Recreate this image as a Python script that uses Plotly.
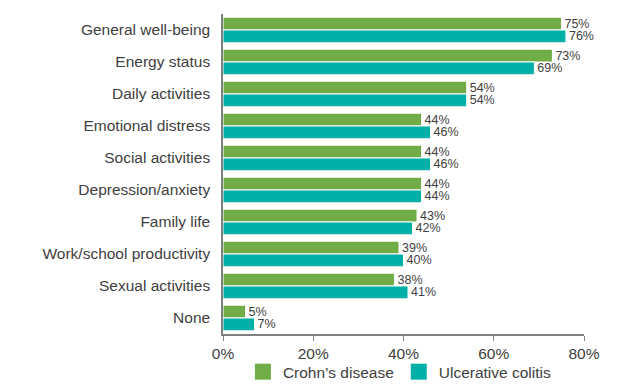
import plotly.graph_objects as go

categories = ["General well-being", "Energy status", "Daily activities", "Emotional distress",
              "Social activities", "Depression/anxiety", "Family life",
              "Work/school productivity", "Sexual activities", "None"]
crohns = [75, 73, 54, 44, 44, 44, 43, 39, 38, 5]
uc = [76, 69, 54, 46, 46, 44, 42, 40, 41, 7]
series_names = ["Crohn’s disease", "Ulcerative colitis"]
tick_vals = [0, 20, 40, 60, 80]
tick_text = ["0%", "20%", "40%", "60%", "80%"]

GREEN = "#70AD47"
TEAL = "#00B0A6"
TXT = "#404040"
FONT = "Liberation Sans, Arial, sans-serif"

fig = go.Figure()
for name, vals, col in [(series_names[0], crohns, GREEN), (series_names[1], uc, TEAL)]:
    fig.add_trace(go.Bar(
        y=categories, x=vals, orientation="h", name=name, showlegend=False,
        marker=dict(color=col, line=dict(color="white", width=1)),
        text=[f"{v}%" for v in vals], textposition="outside", cliponaxis=False,
        constraintext="none",
        textfont=dict(size=12.5, color=TXT, family=FONT)))
# legend proxies
for name, col in [(series_names[0], GREEN), (series_names[1], TEAL)]:
    fig.add_trace(go.Scatter(
        x=[None], y=[None], mode="markers", name=name,
        marker=dict(symbol="square", size=16, color=col)))

fig.update_layout(
    width=619, height=384,
    margin=dict(l=223, r=35, t=14, b=50, autoexpand=False),
    barmode="group", bargap=0.2, bargroupgap=0,
    plot_bgcolor="white", paper_bgcolor="white",
    font=dict(family=FONT, color=TXT, size=15),
    showlegend=True,
    legend=dict(orientation="h", x=0.49, xanchor="center", yref="container",
                y=0.031, yanchor="middle", bgcolor="rgba(0,0,0,0)",
                font=dict(size=15.5, color=TXT), itemwidth=30, traceorder="normal",
                tracegroupgap=0),
    xaxis=dict(range=[0, 80], tickvals=tick_vals, ticktext=tick_text,
               showline=True, linecolor="#808080", linewidth=1.5,
               ticks="outside", ticklen=5, tickcolor="#808080",
               showgrid=False, zeroline=False, tickfont=dict(size=15.5, color=TXT)),
    yaxis=dict(autorange="reversed", showline=True, linecolor="#808080", linewidth=1.5,
               ticks="", showgrid=False, ticklabelstandoff=8,
               tickfont=dict(size=15.5, color=TXT)),
)

fig.write_html("out.html")
